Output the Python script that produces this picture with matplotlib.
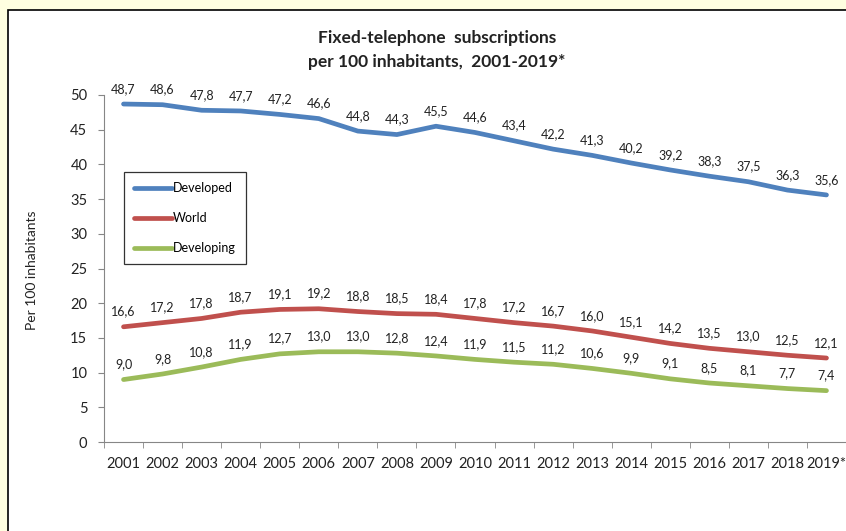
import matplotlib.pyplot as plt
from matplotlib.patches import Rectangle
from matplotlib.lines import Line2D

years = ['2001', '2002', '2003', '2004', '2005', '2006', '2007', '2008', '2009', '2010',
         '2011', '2012', '2013', '2014', '2015', '2016', '2017', '2018', '2019*']
developed = [48.7, 48.6, 47.8, 47.7, 47.2, 46.6, 44.8, 44.3, 45.5, 44.6,
             43.4, 42.2, 41.3, 40.2, 39.2, 38.3, 37.5, 36.3, 35.6]
world = [16.6, 17.2, 17.8, 18.7, 19.1, 19.2, 18.8, 18.5, 18.4, 17.8,
         17.2, 16.7, 16.0, 15.1, 14.2, 13.5, 13.0, 12.5, 12.1]
developing = [9.0, 9.8, 10.8, 11.9, 12.7, 13.0, 13.0, 12.8, 12.4, 11.9,
              11.5, 11.2, 10.6, 9.9, 9.1, 8.5, 8.1, 7.7, 7.4]

series = [('Developed', developed, '#4F81BD'),
          ('World', world, '#C0504D'),
          ('Developing', developing, '#9BBB59')]

plt.rcParams['font.family'] = ['Lato', 'DejaVu Sans']

fig = plt.figure(figsize=(8.46, 5.31), dpi=100)
fig.patch.set_facecolor('#FFFFE0')
# white chart box with black border
fig.add_artist(Rectangle((8 / 846, -0.05), 1.0, (531 - 10) / 531 + 0.05,
                         transform=fig.transFigure, facecolor='white',
                         edgecolor='black', linewidth=1.2, zorder=0))

ax = fig.add_axes([104 / 846, 89 / 531, 742 / 846, 347 / 531])
ax.set_facecolor('none')

x = list(range(len(years)))
for name, vals, col in series:
    ax.plot(x, vals, color=col, linewidth=3.4, solid_capstyle='round', label=name)
    for xi, v in zip(x, vals):
        ax.annotate(f'{v:.1f}'.replace('.', ','), (xi, v), xytext=(0, 11),
                    textcoords='offset points', ha='center', va='center',
                    fontsize=9, color='#222222', annotation_clip=False)

ax.set_xlim(-0.5, len(years) - 0.5)
ax.set_ylim(0, 50)
ax.set_yticks(range(0, 51, 5))
ax.set_xticks(x)
ax.set_xticklabels(years)
ax.set_xticks([i - 0.5 for i in range(len(years) + 1)], minor=True)
ax.tick_params(axis='x', which='major', length=0, pad=11, labelsize=10.5, labelcolor='#222222')
ax.tick_params(axis='x', which='minor', length=4, color='#868686', direction='out')
ax.tick_params(axis='y', length=4, color='#868686', pad=8, labelsize=10.5, labelcolor='#222222')
for s in ['top', 'right']:
    ax.spines[s].set_visible(False)
for s in ['left', 'bottom']:
    ax.spines[s].set_color('#868686')

fig.text(32 / 846, 1 - 270 / 531, 'Per 100 inhabitants', rotation=90,
         ha='center', va='center', fontsize=10, color='#222222')

fig.text(437 / 846, 1 - 38 / 531, 'Fixed-telephone  subscriptions',
         ha='center', va='center', fontsize=12.5, fontweight='bold', color='#222222')
fig.text(437 / 846, 1 - 62 / 531, 'per 100 inhabitants,  2001-2019*',
         ha='center', va='center', fontsize=12.5, fontweight='bold', color='#222222')

handles = [Line2D([], [], color=c, linewidth=3.4, solid_capstyle='round') for _, _, c in series]
leg = fig.legend(handles, [n for n, _, _ in series], loc='upper left',
                 bbox_to_anchor=(124 / 846, 1 - 172 / 531), fontsize=9,
                 frameon=True, fancybox=False, edgecolor='black',
                 handlelength=3.0, handletextpad=0.1, labelspacing=1.45,
                 borderpad=0.8, borderaxespad=0)
leg.get_frame().set_linewidth(0.9)
leg.set_zorder(5)

fig.savefig('out.png', dpi=100, facecolor=fig.get_facecolor())
